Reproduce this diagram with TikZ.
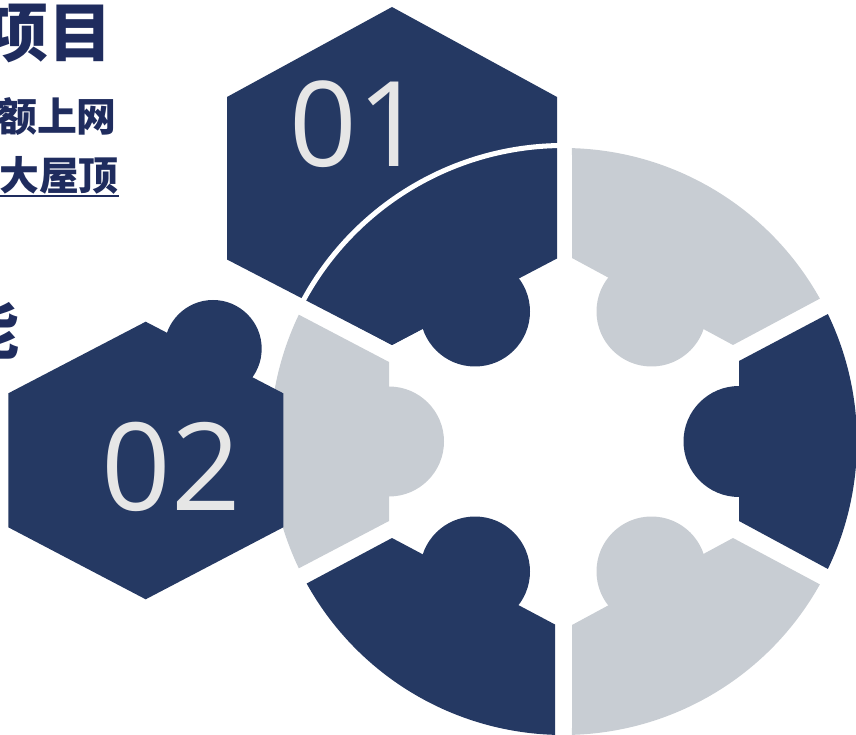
\documentclass[tikz,border=0pt]{standalone}
\usepackage{fontspec}
\newfontfamily\cjk{Noto Sans CJK SC}
\newfontfamily\digits{Open Sans}
\definecolor{navy}{RGB}{37,57,99}
\definecolor{mist}{RGB}{200,205,211}
\definecolor{inkblue}{RGB}{31,44,94}
\definecolor{pale}{RGB}{230,230,230}

\begin{document}
\begin{tikzpicture}[
	x=0.03cm, y=0.03cm,
	dark/.style={ fill=navy },
	light/.style={ fill=mist },
	num/.style={ text=pale, inner sep=0pt, anchor=base, font=\digits },
	head/.style={ text=inkblue, inner sep=0pt, anchor=base east, font=\cjk\bfseries }
]

\useasboundingbox (0,0) rectangle (856,-735);
\coordinate (c) at (563.5,-441.5);

\fill[light] (c) ++(29.13:293.5) arc[start angle=29.13, end angle=88.34, radius=293.5] -- (572,-258) -- (733,-345) -- cycle;
\fill[light] (651.5,-311.5) circle[radius=55];
\fill[dark] (c) ++(-25.74:293.5) arc[start angle=-25.74, end angle=25.74, radius=293.5] -- (739,-361) -- (739,-521) -- cycle;
\fill[dark] (739,-441.5) circle[radius=55.5];
\fill[light] (c) ++(-88.34:293.5) arc[start angle=-88.34, end angle=-29.13, radius=293.5] -- (733,-538) -- (572,-625) -- cycle;
\fill[light] (651.5,-571.5) circle[radius=55];
\fill[dark] (c) ++(-151.06:293.5) arc[start angle=-151.06, end angle=-91.66, radius=293.5] -- (555,-624.5) -- (392,-538) -- cycle;
\fill[dark] (475,-571.5) circle[radius=55];
\fill[light] (c) ++(154.4:293.5) arc[start angle=154.4, end angle=205.6, radius=293.5] -- (389,-521) -- (389,-362) -- cycle;
\fill[light] (389,-441.5) circle[radius=55];

\fill[dark] (392,-7) -- (557,-97) -- (557,-258.5) -- (392,-345) -- (227,-259.5) -- (227,-97) -- cycle;
\fill[dark] (c) ++(91.66:293.5) arc[start angle=91.66, end angle=151.06, radius=293.5] -- (392,-345) -- (555,-258.5) -- cycle;
\fill[dark] (475,-311.5) circle[radius=55];
\draw[white, line width=4.3pt] (c) ++(91:296) arc[start angle=91, end angle=152, radius=296];

\fill[dark] (145.7,-321.7) -- (283.3,-393.3) -- (283.3,-527.3) -- (145.7,-599.3) -- (8.3,-527.3) -- (8.3,-393.3) -- cycle;
\fill[dark] (213,-348.7) circle[radius=48.7];

\node[num] (one) at (357,-167) {\fontsize{101}{101}\selectfont 01};
\node[num] (two) at (171,-510) {\fontsize{104}{104}\selectfont 02};

\node[head] (proj) at (113,-57) {\fontsize{54.6}{60}\selectfont 项目};
\node[head] (net) at (117,-131.5) {\fontsize{34}{38}\selectfont 额上网};
\node[head] (roof) at (119,-190.5) {\fontsize{34}{38}\selectfont 大屋顶};
\draw[inkblue, line width=1.7pt] ([yshift=-0.5mm]roof.south west) -- ([yshift=-0.5mm]roof.south east);
\node[head] (able) at (20,-354) {\fontsize{54.6}{60}\selectfont 能};

\end{tikzpicture}
\end{document}
